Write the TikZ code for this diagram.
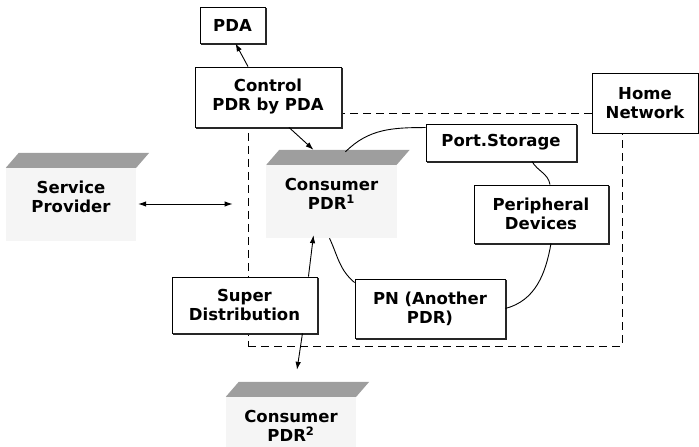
\documentclass[tikz,border=0pt]{standalone}
\usepackage{fontspec}
\setmainfont{DejaVu Sans}
\usetikzlibrary{backgrounds}
\usetikzlibrary{calc}
\usetikzlibrary{arrows.meta}
\newcommand\devfaces[1]{%
  \fill[devfront] ([yshift=-15pt]#1.north west) rectangle (#1.south east);
  \fill[devtop] ([xshift=13pt]#1.north west) -- ([xshift=13pt]#1.north east)
    -- ([yshift=-15pt]#1.north east) -- ([yshift=-15pt]#1.north west) -- cycle;
}

\begin{document}
\begin{tikzpicture}[
x=1pt, y=1pt,
>={Latex[length=8pt,width=5.5pt]},
font=\fontsize{16.5}{19}\selectfont\bfseries,
box/.style={
  rectangle,
  draw,
  line width=0.9pt,
  fill=white,
  align=center,
  inner sep=2pt},
plainbox/.style={rectangle, draw, line width=0.9pt, fill=white, align=center},
boxedge/.style={line width=1.8pt, black!85},
device/.style={minimum width=130pt, minimum height=88pt, inner sep=0pt, align=center},
devtop/.style={fill=black!38},
devfront/.style={fill=black!4},
homearea/.style={draw, line width=0.9pt, dash pattern=on 8pt off 5pt,
  minimum width=374pt, minimum height=233pt},
link/.style={line width=0.9pt}
]
\useasboundingbox (0,0) rectangle (699,447);

% home network area
\node[homearea] (home) at (435,217.5) {};

\node[box, minimum width=65pt, minimum height=36pt] (pda) at (232.5,422) {PDA};
\node[box, minimum width=146pt, minimum height=60pt] (ctrl) at (268,350) {Control\\PDR by PDA};
\node[plainbox, minimum width=106pt, minimum height=60pt] (hn) at (645,344) {Home\\Network};
\node[box, minimum width=150pt, minimum height=37pt] (port) at (501,304.5) {Port.Storage};
\node[box, minimum width=134pt, minimum height=58pt] (peri) at (541,233) {Peripheral\\Devices};
\node[box, minimum width=150pt, minimum height=59pt] (pn) at (430,138.5) {PN (Another\\PDR)};
\node[box, minimum width=145pt, minimum height=56pt] (super) at (244.5,142) {Super\\Distribution};
\foreach \b in {pda,ctrl,port,peri,pn,super}
  \draw[boxedge] ([shift={(0.5pt,-1pt)}]\b.north east) -- ([shift={(0.5pt,-0.5pt)}]\b.south east)
    -- ([shift={(1pt,-0.5pt)}]\b.south west);

% devices
\node[device] (sp) at (71,250) {Service\\Provider};
\node[device] (c1) at (331.5,253) {Consumer\\PDR\textsuperscript{1}};
\node[device] (c2) at (291,21) {Consumer\\PDR\textsuperscript{2}};
\begin{scope}[on background layer]
\devfaces{sp}
\devfaces{c1}
\devfaces{c2}
\end{scope}

\draw[link,->] ([xshift=-20pt]ctrl.north) -- ([xshift=3pt]pda.south);
\draw[link,->] ([xshift=21pt]ctrl.south) -- ([xshift=-18pt]c1.north);
\draw[link,<->] ([shift={(2pt,-7pt)}]sp.east) -- ($(sp.east -| home.west)+(-15,-7)$);
\draw[link] ([shift={(14pt,-2pt)}]c1.north) to[out=45, in=180] ([yshift=-4pt]port.north west);
\draw[link] ([xshift=31pt]port.south) to[out=-60, in=100] ([xshift=9pt]peri.north);
\draw[link] ([xshift=10pt]peri.south) to[out=-100, in=15] (pn.east);
\draw[link] ([xshift=-2pt]c1.south) to[out=-65, in=140] ([yshift=-4pt]pn.north west);
\draw[link,->] ([xshift=-9pt]super.north east) -- ([shift={(-18pt,3pt)}]c1.south);
\draw[link,->] ([xshift=-15pt]super.south east) -- ([shift={(6pt,12pt)}]c2.north);
\end{tikzpicture}
\end{document}
